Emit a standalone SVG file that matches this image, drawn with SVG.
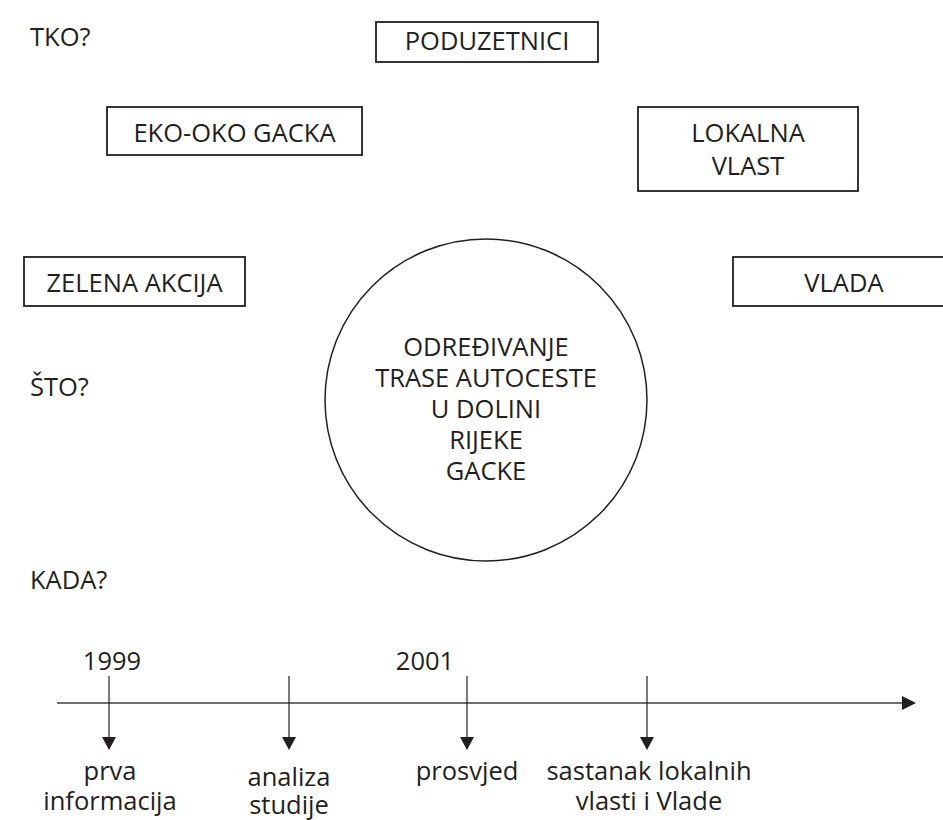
<svg xmlns="http://www.w3.org/2000/svg" width="943" height="820" viewBox="0 0 943 820">
<style>
text{font-family:"Open Sans","Liberation Sans",sans-serif;font-size:25.5px;fill:#231f20}
.c{text-anchor:middle}
.box{fill:#fff;stroke:#231f20;stroke-width:1.8}
.tick{stroke:#231f20;stroke-width:1.2;fill:none}
.head{fill:#231f20}
</style>
<rect width="943" height="820" fill="#fff"/>
<text x="30" y="46">TKO?</text>
<text x="30" y="396">ŠTO?</text>
<text x="30" y="589">KADA?</text>
<g id="poduzetnici"><rect class="box" x="376" y="22" width="222" height="40"/><text class="c" x="487" y="50">PODUZETNICI</text></g>
<g id="eko-oko"><rect class="box" x="107" y="107" width="255" height="48"/><text class="c" x="234.5" y="142">EKO-OKO GACKA</text></g>
<g id="lokalna"><rect class="box" x="638" y="107" width="220" height="84"/><text class="c" x="748" y="142">LOKALNA</text><text class="c" x="748" y="175">VLAST</text></g>
<g id="zelena"><rect class="box" x="24" y="257" width="221" height="49"/><text class="c" x="134.5" y="292">ZELENA AKCIJA</text></g>
<g id="vlada"><rect class="box" x="733" y="257" width="222" height="49"/><text class="c" x="844" y="292">VLADA</text></g>
<g id="centar"><circle cx="486" cy="400" r="161" fill="none" stroke="#231f20" stroke-width="1.5"/>
<text class="c" x="486" y="356">ODREĐIVANJE</text>
<text class="c" x="486" y="387">TRASE AUTOCESTE</text>
<text class="c" x="486" y="418">U DOLINI</text>
<text class="c" x="486" y="449">RIJEKE</text>
<text class="c" x="486" y="480">GACKE</text></g>
<g id="connectors">
<line x1="57" y1="703" x2="903" y2="703" stroke="#6d6e70" stroke-width="2"/>
<path class="head" d="M902,696 L916,703 L902,710 Z"/>
<line class="tick" x1="109" y1="676" x2="109" y2="740"/>
<path class="head" d="M102,737 L116,737 L109,750 Z"/>
<line class="tick" x1="289" y1="676" x2="289" y2="740"/>
<path class="head" d="M282,737 L296,737 L289,750 Z"/>
<line class="tick" x1="467" y1="676" x2="467" y2="740"/>
<path class="head" d="M460,737 L474,737 L467,750 Z"/>
<line class="tick" x1="647" y1="676" x2="647" y2="740"/>
<path class="head" d="M640,737 L654,737 L647,750 Z"/>
</g>
<g id="labels">
<text class="c" x="112" y="670">1999</text>
<text class="c" x="425" y="670">2001</text>
<text class="c" x="110" y="780">prva</text>
<text class="c" x="110" y="810">informacija</text>
<text class="c" x="289" y="786">analiza</text>
<text class="c" x="289" y="814">studije</text>
<text class="c" x="467" y="780">prosvjed</text>
<text class="c" x="649" y="780">sastanak lokalnih</text>
<text class="c" x="649" y="810">vlasti i Vlade</text>
</g>
</svg>
